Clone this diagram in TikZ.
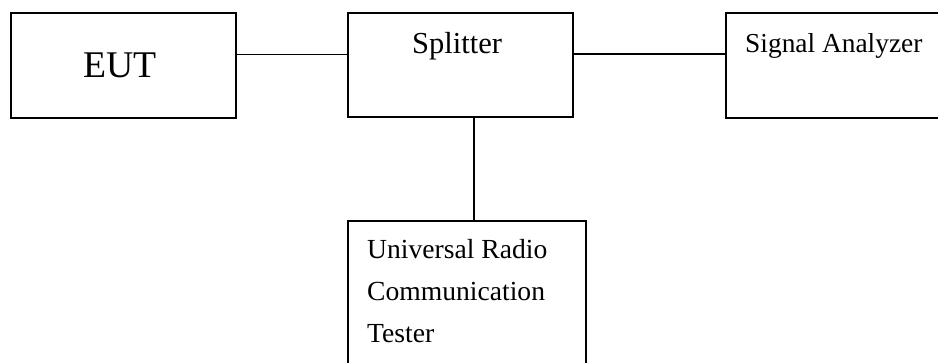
\documentclass[tikz,border=0pt]{standalone}
\usepackage{fontspec}
\setmainfont{Liberation Serif}
\begin{document}
\begin{tikzpicture}[x=1pt, y=-1pt,
    box/.style={draw, line width=1.7pt, inner sep=0, anchor=north west},
    lbl/.style={inner sep=0, anchor=base west},
    wire/.style={line width=1.3pt}]
    \useasboundingbox (0, 0) rectangle (938, 362);

    \node [box, minimum width=225pt, minimum height=105pt] (eut) at (10, 12) {};
    \node [lbl, font=\fontsize{37.7}{45}\selectfont] (eutLabel) at (83, 77) {EUT};

    \node [box, minimum width=225pt, minimum height=104pt] (splitter) at (347, 12) {};
    \node [lbl, font=\fontsize{30.5}{36}\selectfont] (splitterLabel) at (412, 53) {Splitter};

    \node [box, minimum width=230pt, minimum height=105pt] (analyzer) at (725, 12) {};
    \node [lbl, font=\fontsize{27.4}{33}\selectfont] (analyzerLabel) at (745, 52) {Signal Analyzer};

    \node [box, minimum width=238pt, minimum height=160pt] (tester) at (347, 220) {};
    \node [lbl, font=\fontsize{27.6}{42}\selectfont, align=left] (testerLabel) at (367, 342)
        {Universal Radio\\Communication\\Tester};

    \draw [wire] ([yshift=11pt]eut.east) -- ([yshift=11pt]eut.east -| splitter.west);
    \draw [wire] ([yshift=11pt]splitter.east) -- ([yshift=11pt]splitter.east -| analyzer.west);
    \draw [wire] ([xshift=13.5pt]splitter.south) -- ([xshift=13.5pt]splitter.south |- tester.north);
  \end{tikzpicture}
\end{document}
